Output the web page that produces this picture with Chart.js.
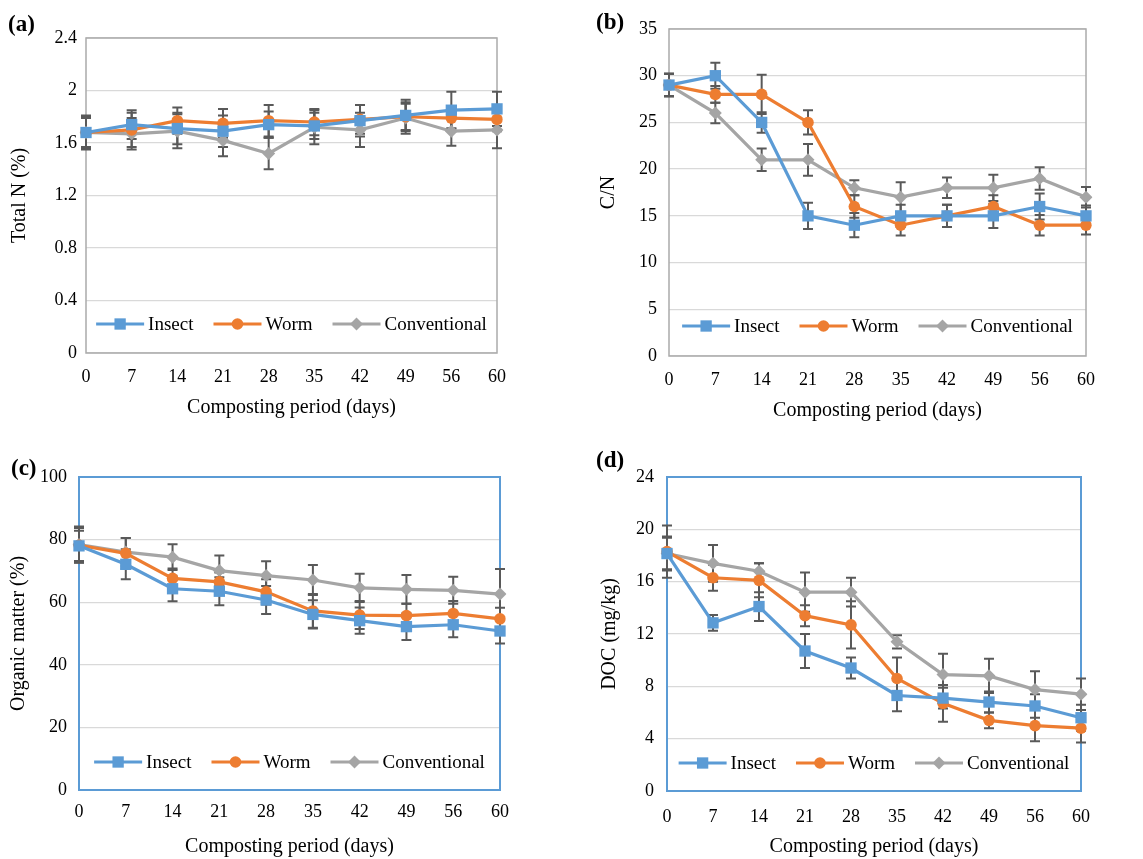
<!DOCTYPE html>
<html>
<head>
<meta charset="utf-8">
<script src="https://cdn.jsdelivr.net/npm/chart.js@4.4.0/dist/chart.umd.min.js"></script>
<style>
  body { margin: 0; background: #fff; width: 1143px; height: 859px; position: relative; overflow: hidden;
         font-family: 'Liberation Serif', 'Times New Roman', serif; }
  canvas { position: absolute; }
  .tag { position: absolute; font-weight: bold; font-size: 23px; line-height: 1; }
</style>
</head>
<body>
<canvas id="chartA" width="571" height="430" style="left:0;top:0"></canvas>
<canvas id="chartB" width="572" height="430" style="left:571px;top:0"></canvas>
<canvas id="chartC" width="571" height="429" style="left:0;top:430px"></canvas>
<canvas id="chartD" width="572" height="429" style="left:571px;top:430px"></canvas>
<div class="tag" style="left:8px;top:12px">(a)</div>
<div class="tag" style="left:596px;top:10px">(b)</div>
<div class="tag" style="left:11px;top:456px">(c)</div>
<div class="tag" style="left:596px;top:448px">(d)</div>
<script>
// sampling days (category axis)
const days = ['0', '7', '14', '21', '28', '35', '42', '49', '56', '60'];

// (a) Total N (%)
const totalNInsect = [1.68, 1.74, 1.71, 1.69, 1.74, 1.73, 1.77, 1.81, 1.85, 1.86];
const totalNWorm = [1.68, 1.70, 1.77, 1.75, 1.77, 1.76, 1.78, 1.80, 1.79, 1.78];
const totalNConv = [1.68, 1.67, 1.69, 1.62, 1.52, 1.72, 1.70, 1.79, 1.69, 1.70];
const totalNInsectErr = [0.11, 0.11, 0.12, 0.12, 0.10, 0.10, 0.12, 0.12, 0.14, 0.13];
const totalNWormErr = [0.12, 0.13, 0.10, 0.11, 0.12, 0.10, 0.11, 0.10, 0.08, 0.09];
const totalNConvErr = [0.13, 0.12, 0.13, 0.12, 0.12, 0.13, 0.13, 0.12, 0.11, 0.14];

// (b) C/N
const cnInsect = [29, 30, 25, 15, 14, 15, 15, 15, 16, 15];
const cnWorm = [29, 28, 28, 25, 16, 14, 15, 16, 14, 14];
const cnConv = [29, 26, 21, 21, 18, 17, 18, 18, 19, 17];
const cnInsectErr = [1.2, 1.4, 1.1, 1.4, 1.3, 1.2, 1.2, 1.3, 1.4, 1.1];
const cnWormErr = [1.2, 0.9, 2.1, 1.3, 1.2, 1.1, 1.2, 1.2, 1.1, 1.0];
const cnConvErr = [1.2, 1.1, 1.2, 1.7, 0.8, 1.6, 1.1, 1.4, 1.2, 1.1];

// (c) Organic matter (%)
const omInsect = [78.0, 72.1, 64.3, 63.5, 60.7, 56.1, 54.1, 52.2, 52.8, 50.8];
const omWorm = [78.2, 75.6, 67.6, 66.5, 63.3, 57.2, 55.9, 55.7, 56.4, 54.7];
const omConv = [78.4, 76.0, 74.4, 70.1, 68.5, 67.1, 64.6, 64.1, 63.8, 62.6];
const omInsectErr = [4.8, 4.8, 4.0, 4.5, 4.5, 4.5, 4.2, 4.3, 4.0, 4.0];
const omWormErr = [5.5, 4.9, 3.2, 3.0, 4.0, 5.4, 4.5, 3.8, 4.0, 3.5];
const omConvErr = [5.8, 4.5, 4.1, 4.8, 4.6, 4.8, 4.5, 4.6, 4.3, 8.0];

// (d) DOC (mg/kg)
const docInsect = [18.15, 12.85, 14.1, 10.7, 9.4, 7.3, 7.1, 6.8, 6.5, 5.6];
const docWorm = [18.3, 16.3, 16.1, 13.4, 12.7, 8.6, 6.7, 5.4, 5.0, 4.8];
const docConv = [18.15, 17.4, 16.8, 15.2, 15.2, 11.4, 8.9, 8.8, 7.75, 7.4];
const docInsectErr = [1.2, 0.6, 1.1, 1.3, 0.8, 1.2, 0.8, 0.8, 0.9, 1.0];
const docWormErr = [2.0, 1.0, 1.3, 0.8, 1.8, 1.6, 1.4, 0.6, 1.2, 1.1];
const docConvErr = [1.3, 1.4, 0.6, 1.5, 1.1, 0.5, 1.6, 1.3, 1.4, 1.2];

const FONT = "'Liberation Serif', 'Times New Roman', serif";
const seriesStyle = [
    { label: 'Insect', color: '#5B9BD5', point: 'rect', radius: 8 },
    { label: 'Worm', color: '#ED7D31', point: 'circle', radius: 5.8 },
    { label: 'Conventional', color: '#A5A5A5', point: 'rectRot', radius: 6.5 }
];

function drawMarker(ctx, style, x, y, r, color) {
    ctx.fillStyle = color;
    ctx.beginPath();
    if (style === 'rect') {
        const s = r * Math.SQRT1_2;
        ctx.rect(x - s, y - s, 2 * s, 2 * s);
    } else if (style === 'rectRot') {
        ctx.moveTo(x, y - r);
        ctx.lineTo(x + r, y);
        ctx.lineTo(x, y + r);
        ctx.lineTo(x - r, y);
        ctx.closePath();
    } else {
        ctx.arc(x, y, r, 0, Math.PI * 2);
    }
    ctx.fill();
}

// error bars + plot area frame, drawn under the lines
const errorBars = {
    id: 'errorBars',
    beforeDatasetsDraw(chart, args, opts) {
        const { ctx, chartArea, scales } = chart;
        ctx.save();
        ctx.strokeStyle = opts.frameColor;
        ctx.lineWidth = opts.frameWidth;
        ctx.strokeRect(chartArea.left, chartArea.top, chartArea.right - chartArea.left, chartArea.bottom - chartArea.top);
        ctx.strokeStyle = '#595959';
        ctx.lineWidth = 2;
        chart.data.datasets.forEach(ds => {
            ds.data.forEach((v, i) => {
                const e = ds.errors[i];
                const x = scales.x.getPixelForValue(i);
                const y1 = scales.y.getPixelForValue(v + e);
                const y2 = scales.y.getPixelForValue(v - e);
                ctx.beginPath();
                ctx.moveTo(x, y1); ctx.lineTo(x, y2);
                ctx.moveTo(x - 5, y1); ctx.lineTo(x + 5, y1);
                ctx.moveTo(x - 5, y2); ctx.lineTo(x + 5, y2);
                ctx.stroke();
            });
        });
        ctx.restore();
    }
};

// legend inside the bottom of the plot area
const insideLegend = {
    id: 'insideLegend',
    afterDraw(chart, args, opts) {
        const { ctx, chartArea } = chart;
        ctx.save();
        ctx.font = '19px ' + FONT;
        ctx.textBaseline = 'middle';
        const lineLen = 48, gap = 4, spacing = 20;
        const items = chart.data.datasets.map(ds => ({ ds, w: ctx.measureText(ds.label).width }));
        const total = items.reduce((s, it) => s + lineLen + gap + it.w, 0) + spacing * (items.length - 1);
        let x = (chartArea.left + chartArea.right) / 2 - total / 2;
        const y = chartArea.bottom - opts.offset;
        items.forEach(it => {
            ctx.strokeStyle = it.ds.borderColor;
            ctx.lineWidth = 3.2;
            ctx.beginPath();
            ctx.moveTo(x, y); ctx.lineTo(x + lineLen, y);
            ctx.stroke();
            drawMarker(ctx, it.ds.pointStyle, x + lineLen / 2, y, it.ds.pointRadius, it.ds.borderColor);
            ctx.fillStyle = '#000';
            ctx.fillText(it.ds.label, x + lineLen + gap, y + 1);
            x += lineLen + gap + it.w + spacing;
        });
        ctx.restore();
    }
};

function makeChart(id, p) {
    const datasets = p.series.map((vals, k) => ({
        label: seriesStyle[k].label,
        data: vals,
        errors: p.errors[k],
        borderColor: seriesStyle[k].color,
        backgroundColor: seriesStyle[k].color,
        borderWidth: 3.2,
        pointStyle: seriesStyle[k].point,
        pointRadius: seriesStyle[k].radius,
        pointBorderWidth: 0,
        tension: 0
    }));
    return new Chart(document.getElementById(id).getContext('2d'), {
        type: 'line',
        data: { labels: days, datasets: datasets },
        plugins: [errorBars, insideLegend],
        options: {
            responsive: false,
            animation: false,
            layout: { padding: { top: p.top, right: p.right, left: 0, bottom: 0 } },
            plugins: {
                legend: { display: false },
                tooltip: { enabled: false },
                errorBars: { frameColor: p.frame, frameWidth: p.frameWidth },
                insideLegend: { offset: p.legendOffset }
            },
            scales: {
                x: {
                    grid: { display: false },
                    border: { display: false },
                    ticks: { color: '#000', font: { family: FONT, size: 18 }, padding: p.xTickPad, maxRotation: 0, autoSkip: false },
                    title: { display: true, text: 'Composting period (days)', color: '#000', font: { family: FONT, size: 20 }, padding: { top: 0, bottom: p.xTitlePad } },
                    afterFit: s => { s.height = p.xHeight; }
                },
                y: {
                    min: p.min, max: p.max,
                    grid: { color: '#D9D9D9', lineWidth: 1.3, drawTicks: false },
                    border: { display: false },
                    ticks: { stepSize: p.step, color: '#000', font: { family: FONT, size: 18 }, padding: p.yTickPad,
                             callback: v => String(+v.toFixed(1)) },
                    title: { display: true, text: p.yTitle, color: '#000', font: { family: FONT, size: 20 }, padding: { top: p.yTitlePad, bottom: 0 } },
                    afterFit: s => { s.width = p.yWidth; }
                }
            }
        }
    });
}

makeChart('chartA', {
    series: [totalNInsect, totalNWorm, totalNConv],
    errors: [totalNInsectErr, totalNWormErr, totalNConvErr],
    min: 0, max: 2.4, step: 0.4, yTitle: 'Total N (%)',
    top: 38, right: 74, yWidth: 86, xHeight: 77,
    yTitlePad: 8, xTitlePad: 10, xTickPad: 5, yTickPad: 9,
    frame: '#ABABAB', frameWidth: 1.5, legendOffset: 29
});
makeChart('chartB', {
    series: [cnInsect, cnWorm, cnConv],
    errors: [cnInsectErr, cnWormErr, cnConvErr],
    min: 0, max: 35, step: 5, yTitle: 'C/N',
    top: 29, right: 57, yWidth: 98, xHeight: 74,
    yTitlePad: 26, xTitlePad: 7, xTickPad: 5, yTickPad: 12,
    frame: '#ABABAB', frameWidth: 1.5, legendOffset: 30
});
makeChart('chartC', {
    series: [omInsect, omWorm, omConv],
    errors: [omInsectErr, omWormErr, omConvErr],
    min: 0, max: 100, step: 20, yTitle: 'Organic matter (%)',
    top: 47, right: 71, yWidth: 79, xHeight: 69,
    yTitlePad: 7, xTitlePad: 0, xTickPad: 3, yTickPad: 12,
    frame: '#5B9BD5', frameWidth: 2, legendOffset: 28
});
makeChart('chartD', {
    series: [docInsect, docWorm, docConv],
    errors: [docInsectErr, docWormErr, docConvErr],
    min: 0, max: 24, step: 4, yTitle: 'DOC (mg/kg)',
    top: 47, right: 62, yWidth: 96, xHeight: 68,
    yTitlePad: 27, xTitlePad: 0, xTickPad: 7, yTickPad: 13,
    frame: '#5B9BD5', frameWidth: 2, legendOffset: 28
});
</script>
</body>
</html>
